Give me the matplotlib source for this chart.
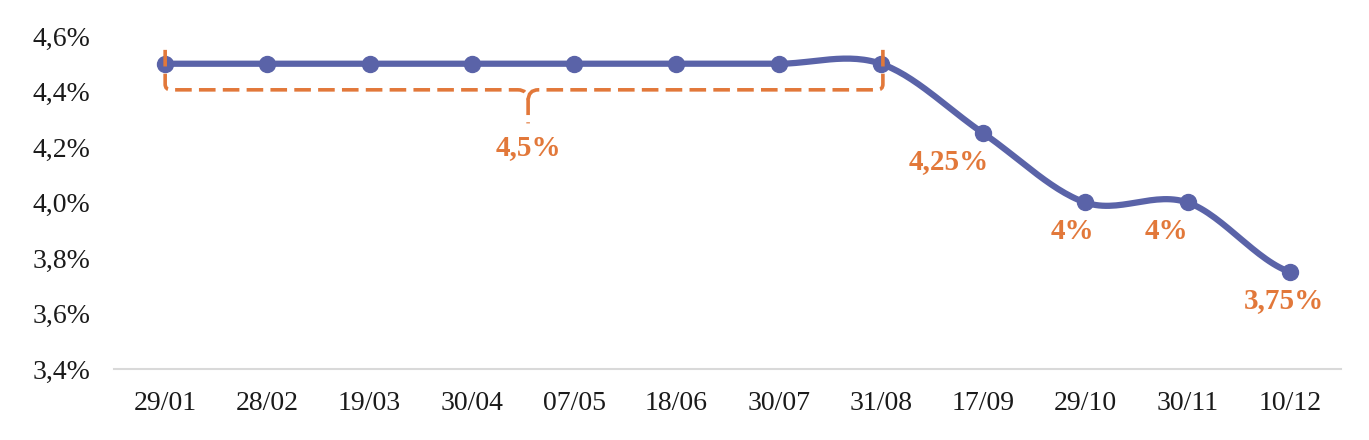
import numpy as np
import matplotlib
matplotlib.use("Agg")
import matplotlib.pyplot as plt
from matplotlib.path import Path
from matplotlib.patches import PathPatch

dates = ["29/01", "28/02", "19/03", "30/04", "07/05", "18/06",
         "30/07", "31/08", "17/09", "29/10", "30/11", "10/12"]
rates = [4.5, 4.5, 4.5, 4.5, 4.5, 4.5, 4.5, 4.5, 4.25, 4.0, 4.0, 3.75]
yticks = [3.4, 3.6, 3.8, 4.0, 4.2, 4.4, 4.6]

# labels shown on the falling part (index, text, offset in points)
point_labels = [(8, "4,25%", (-25, -11)), (9, "4%", (-9, -11)),
                (10, "4%", (-15, -11)), (11, "3,75%", (-4, -11))]
brace_from, brace_to, brace_text = 0, 7, "4,5%"

BLUE = "#5A63A8"
ORANGE = "#E2783A"
plt.rcParams["font.family"] = ["Liberation Serif", "DejaVu Serif"]


def smooth(y, n=30):
    # Catmull-Rom like spreadsheet smoothed lines
    p = np.asarray(y, float)
    ext = np.r_[p[0], p, p[-1]]
    xs, ys = [], []
    for i in range(len(p) - 1):
        p0, p1, p2, p3 = ext[i], ext[i + 1], ext[i + 2], ext[i + 3]
        t = np.linspace(0, 1, n, endpoint=False)
        yy = 0.5 * ((2 * p1) + (-p0 + p2) * t + (2 * p0 - 5 * p1 + 4 * p2 - p3) * t ** 2
                    + (-p0 + 3 * p1 - 3 * p2 + p3) * t ** 3)
        xs.append(i + t)
        ys.append(yy)
    xs.append([len(p) - 1])
    ys.append([p[-1]])
    return np.concatenate(xs), np.concatenate(ys)


fig = plt.figure(figsize=(13.69, 4.40), dpi=100)
ax = fig.add_axes([0.0833, 0.1614, 0.8962, 0.7568])
x = np.arange(len(dates))
sx, sy = smooth(rates)
ax.plot(sx, sy, color=BLUE, lw=4.5, solid_capstyle="round", zorder=3, clip_on=False)
ax.plot(x, rates, "o", color=BLUE, ms=11.5, zorder=4, clip_on=False)

# dashed brace over the flat period
v = rates[brace_from]
x0, x1 = brace_from, brace_to + 0.02
xm = (x0 + x1) / 2 + 0.04
top, bot, tip = v + 0.05, v - 0.094, v - 0.215
r = 0.06
verts = [(x0, top), (x0, bot + 0.02), (x0, bot), (x0 + r, bot),
         (xm - 0.1, bot), (xm, bot), (xm, bot - 0.04), (xm, tip)]
codes = [Path.MOVETO, Path.LINETO, Path.CURVE3, Path.CURVE3,
         Path.LINETO, Path.CURVE3, Path.CURVE3, Path.LINETO]
verts2 = [(x1, top), (x1, bot + 0.02), (x1, bot), (x1 - r, bot),
          (xm + 0.1, bot), (xm, bot), (xm, bot - 0.04)]
codes2 = [Path.MOVETO, Path.LINETO, Path.CURVE3, Path.CURVE3,
          Path.LINETO, Path.CURVE3, Path.CURVE3]
for vv, cc in [(verts, codes), (verts2, codes2)]:
    ax.add_patch(PathPatch(Path(vv, cc), fill=False, ec=ORANGE, lw=2.6,
                           ls=(0, (4.6, 2.0)), zorder=5, clip_on=False))
ax.text(xm, tip - 0.04, brace_text, color=ORANGE, fontsize=21, fontweight="bold",
        ha="center", va="top")

for i, t, off in point_labels:
    ax.annotate(t, (x[i], rates[i]), xytext=off, textcoords="offset points",
                color=ORANGE, fontsize=21, fontweight="bold", ha="center", va="top")

ax.set_xlim(-0.5, len(dates) - 0.5)
ax.set_ylim(3.4, 4.6)
ax.set_xticks(x)
ax.set_xticklabels(dates)
ax.set_yticks(yticks)
ax.set_yticklabels([f"{t:.1f}%".replace(".", ",") for t in yticks])
ax.tick_params(length=0, labelsize=20, colors="#1a1a1a")
ax.tick_params(axis="x", pad=16)
ax.tick_params(axis="y", pad=17)
for s in ["top", "right", "left"]:
    ax.spines[s].set_visible(False)
ax.spines["bottom"].set_color("#D9D9D9")
ax.spines["bottom"].set_linewidth(1.5)

fig.savefig("out.png", dpi=100)
